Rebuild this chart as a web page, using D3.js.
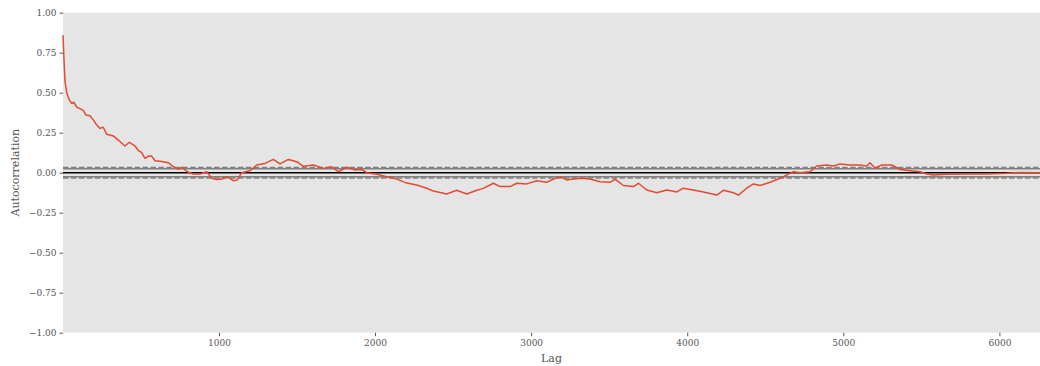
<!DOCTYPE html>
<html>
<head>
<meta charset="utf-8">
<script src="https://cdn.jsdelivr.net/npm/d3@7"></script>
<style>
  body { margin: 0; background: #fff; }
  text { font-family: "DejaVu Serif", serif; }
</style>
</head>
<body>
<svg id="chart"></svg>
<script>
const lags = [1, 7, 14, 25, 41, 57, 71, 89, 110, 131, 148, 174, 195, 212, 238, 259, 281, 323, 355, 398,
  426, 462, 483, 505, 526, 548, 569, 590, 633, 676, 708, 740, 762, 797, 836, 879, 922, 954, 986, 1018,
  1050, 1092, 1118, 1146, 1199, 1242, 1295, 1348, 1391, 1445, 1498, 1541, 1605, 1669, 1723, 1765, 1819, 1872, 1915, 1947,
  2011, 2075, 2139, 2203, 2267, 2331, 2374, 2459, 2523, 2588, 2652, 2694, 2758, 2801, 2865, 2908, 2972, 3036, 3100, 3143,
  3185, 3228, 3271, 3324, 3378, 3442, 3506, 3538, 3591, 3655, 3687, 3741, 3805, 3869, 3933, 3975, 4039, 4104, 4189, 4232,
  4296, 4328, 4381, 4424, 4467, 4531, 4595, 4638, 4680, 4723, 4787, 4830, 4894, 4937, 4979, 5043, 5107, 5150, 5171, 5203,
  5246, 5310, 5364, 5428, 5492, 5535, 5577, 5663, 5791, 5919, 6047, 6133, 6260];

// autocorrelation at those lags
const acf = [0.86, 0.715, 0.57, 0.50, 0.455, 0.434, 0.44, 0.41, 0.40, 0.39, 0.36, 0.356, 0.33, 0.305, 0.277, 0.284, 0.24, 0.23, 0.204, 0.167,
  0.19, 0.167, 0.14, 0.125, 0.09, 0.104, 0.104, 0.075, 0.07, 0.0625, 0.037, 0.021, 0.034, 0.006, -0.008, -0.008, 0.006, -0.035, -0.042, -0.04,
  -0.025, -0.05, -0.045, 0.0, 0.0125, 0.048, 0.058, 0.083, 0.055, 0.083, 0.069, 0.04, 0.048, 0.027, 0.037, 0.006, 0.034, 0.017, 0.02, 0.0,
  -0.01, -0.025, -0.04, -0.065, -0.077, -0.097, -0.115, -0.133, -0.11, -0.133, -0.11, -0.098, -0.066, -0.087, -0.087, -0.066, -0.07, -0.05, -0.06, -0.04,
  -0.025, -0.045, -0.04, -0.035, -0.04, -0.056, -0.06, -0.04, -0.08, -0.087, -0.066, -0.108, -0.125, -0.108, -0.12, -0.097, -0.108, -0.12, -0.14, -0.11,
  -0.125, -0.14, -0.097, -0.07, -0.08, -0.06, -0.035, -0.014, 0.006, 0.0, 0.006, 0.042, 0.048, 0.042, 0.055, 0.048, 0.048, 0.042, 0.0625, 0.028,
  0.048, 0.048, 0.02, 0.0125, 0.006, -0.008, -0.014, -0.01, -0.008, -0.008, -0.004, 0.002, 0.0];

const nObs = 6260;
const xTicks = [1000, 2000, 3000, 4000, 5000, 6000];
const yTicks = [-1.0, -0.75, -0.5, -0.25, 0.0, 0.25, 0.5, 0.75, 1.0];

const width = 1040, height = 366;
const margin = { top: 12.7, right: 0, bottom: 33.3, left: 63 };
const innerW = width - margin.left - margin.right;
const innerH = height - margin.top - margin.bottom;

const svg = d3.select('#chart')
  .attr('width', width)
  .attr('height', height);

const chart = svg.append('g')
  .attr('transform', `translate(${margin.left}, ${margin.top})`);

chart.append('rect')
  .attr('width', innerW)
  .attr('height', innerH)
  .attr('fill', '#e5e5e5');

const xscale = d3.scaleLinear().domain([1, nObs]).range([0, innerW]);
const yscale = d3.scaleLinear().domain([-1, 1]).range([innerH, 0]);

// confidence bands like pandas autocorrelation_plot
const z95 = 1.959963984540054, z99 = 2.5758293035489;
const bands = [
  { y: z99 / Math.sqrt(nObs), color: 'grey', dash: '5.55,2.4' },
  { y: z95 / Math.sqrt(nObs), color: 'grey', dash: null },
  { y: 0, color: 'black', dash: null },
  { y: -z95 / Math.sqrt(nObs), color: 'grey', dash: null },
  { y: -z99 / Math.sqrt(nObs), color: 'grey', dash: '5.55,2.4' }
];

chart.selectAll('line.band')
  .data(bands)
  .join('line')
  .attr('class', 'band')
  .attr('x1', 0)
  .attr('x2', innerW)
  .attr('y1', d => yscale(d.y))
  .attr('y2', d => yscale(d.y))
  .attr('stroke', d => d.color)
  .attr('stroke-width', 1.5)
  .attr('stroke-dasharray', d => d.dash);

const line = d3.line()
  .x((d, i) => xscale(lags[i]))
  .y(d => yscale(d));

chart.append('path')
  .datum(acf)
  .attr('d', line)
  .attr('fill', 'none')
  .attr('stroke', '#e24a33')
  .attr('stroke-width', 1.5)
  .attr('stroke-linejoin', 'round');

const xaxis = d3.axisBottom(xscale)
  .tickValues(xTicks)
  .tickFormat(d3.format('d'))
  .tickSize(3.5)
  .tickPadding(3);

const yaxis = d3.axisLeft(yscale)
  .tickValues(yTicks)
  .tickFormat(d3.format('.2f'))
  .tickSize(3.5)
  .tickPadding(3);

const xg = chart.append('g')
  .attr('transform', `translate(0, ${innerH})`)
  .call(xaxis);

const yg = chart.append('g')
  .call(yaxis);

[xg, yg].forEach(g => {
  g.select('.domain').remove();
  g.selectAll('line').attr('stroke', '#555555');
  g.selectAll('text')
    .attr('fill', '#555555')
    .style('font-family', '"DejaVu Serif", serif')
    .style('font-size', '9px');
});

svg.append('text')
  .attr('x', margin.left + innerW / 2)
  .attr('y', 362)
  .attr('text-anchor', 'middle')
  .attr('fill', '#555555')
  .style('font-size', '11px')
  .text('Lag');

svg.append('text')
  .attr('transform', 'rotate(-90)')
  .attr('x', -(margin.top + innerH / 2))
  .attr('y', 19)
  .attr('text-anchor', 'middle')
  .attr('fill', '#555555')
  .style('font-size', '11px')
  .text('Autocorrelation');
</script>
</body>
</html>
